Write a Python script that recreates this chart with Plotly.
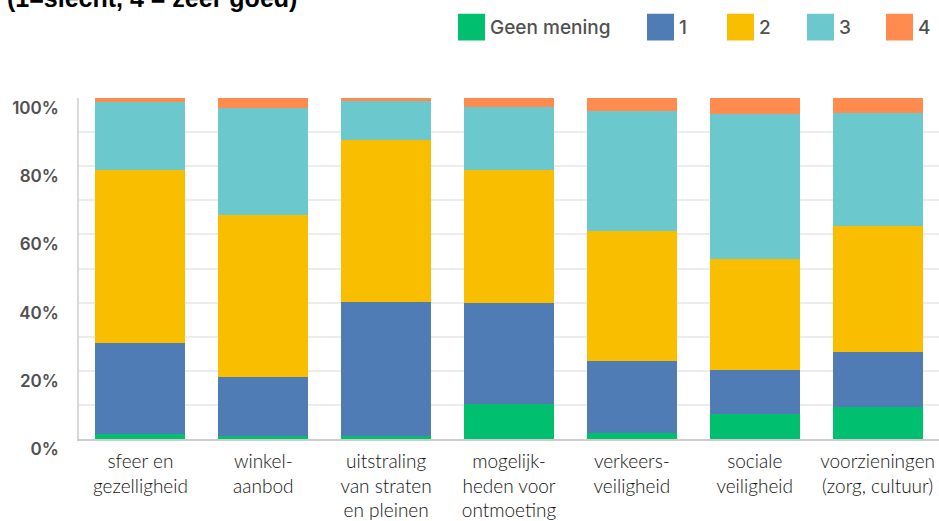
import plotly.graph_objects as go

# ---------------- data ----------------
categories = [
    "sfeer en<br>gezelligheid",
    "winkel-<br>aanbod",
    "uitstraling<br>van straten<br>en pleinen",
    "mogelijk-<br>heden voor<br>ontmoeting",
    "verkeers-<br>veiligheid",
    "sociale<br>veiligheid",
    "voorzieningen<br>(zorg, cultuur)",
]
series_names = ["Geen mening", "1", "2", "3", "4"]
geen_mening = [1.5, 0.8, 0.8, 10.2, 1.8, 7.4, 9.5]
score_1 = [26.8, 17.4, 39.5, 29.7, 21.0, 12.9, 15.9]
score_2 = [50.7, 47.6, 47.3, 39.1, 38.3, 32.6, 37.1]
score_3 = [19.7, 31.3, 11.6, 18.5, 35.1, 42.3, 33.0]
score_4 = [1.3, 2.9, 0.8, 2.5, 3.8, 4.8, 4.5]
y_tick_values = [0, 20, 40, 60, 80, 100]
y_tick_labels = ["0%", "20%", "40%", "60%", "80%", "100%"]
title_text = "(1=slecht, 4 = zeer goed)"

# ---------------- styling ----------------
colors = ["#00BF6F", "#507CB6", "#F9BE00", "#6BC8CD", "#FF8B4F"]
W, H = 939, 521
ML, MR, MT, MB = 79, 0, 98, 79
PW, PH = W - ML - MR, H - MT - MB


def px_x(px):
    return (px - ML) / PW


def px_y(py):
    return (H - MB - py) / PH


fig = go.Figure()
for name, vals, col in zip(series_names, [geen_mening, score_1, score_2, score_3, score_4], colors):
    fig.add_trace(go.Bar(
        x=categories, y=vals, name=name,
        marker=dict(color=col, line=dict(width=0)),
        showlegend=False,
    ))

# manual legend (large square swatches)
legend_sq_left = [458, 647, 727, 807, 886]
sq = 27
sq_top = 13
for name, col, lx in zip(series_names, colors, legend_sq_left):
    fig.add_shape(type="rect", xref="paper", yref="paper",
                  x0=px_x(lx), x1=px_x(lx + sq), y0=px_y(sq_top + sq), y1=px_y(sq_top),
                  fillcolor=col, line=dict(width=0), layer="above")
    fig.add_annotation(xref="paper", yref="paper", x=px_x(lx + sq + 3), y=px_y(sq_top + sq / 2),
                       xanchor="left", yanchor="middle", showarrow=False, text=name,
                       font=dict(family="Inter", size=19, color="#505050", weight=500))

# partially cut-off title
fig.add_annotation(xref="paper", yref="paper", x=px_x(5), y=px_y(13),
                   xanchor="left", yanchor="bottom", showarrow=False, text="<b>" + title_text + "</b>",
                   font=dict(family="Liberation Sans", size=25, color="#000000"))

fig.update_layout(
    width=W, height=H,
    margin=dict(l=ML, r=MR, t=MT, b=MB, pad=0),
    barmode="stack",
    bargap=0.268,
    plot_bgcolor="white",
    paper_bgcolor="white",
    showlegend=False,
)
fig.update_yaxes(
    range=[0, 100],
    tickvals=y_tick_values, ticktext=y_tick_labels,
    showgrid=True, gridcolor="#ececec", gridwidth=1.5,
    minor=dict(dtick=10, showgrid=True, gridcolor="#ececec", gridwidth=1.5),
    showline=True, linecolor="#d9d9d9", linewidth=1.5,
    ticks="", ticklabelstandoff=15, ticklabelshift=10,
    tickfont=dict(family="Inter", size=17, color="#505050", weight=600),
    zeroline=False,
)
fig.update_xaxes(
    showline=True, linecolor="#cccccc", linewidth=2,
    ticks="", ticklabelstandoff=4,
    tickfont=dict(family="Lato", size=19, color="#111111", weight=300),
    tickangle=0,
)

fig.write_html(
    "out.html",
    config={"displayModeBar": False},
    post_script="document.body.style.margin='0px';document.body.style.overflow='hidden';",
)
